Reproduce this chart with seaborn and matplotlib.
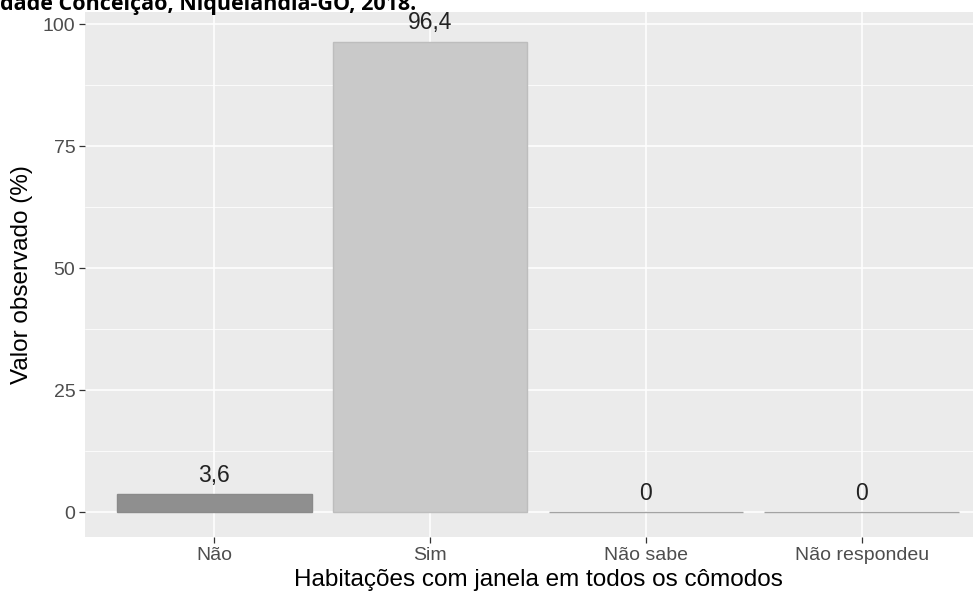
import matplotlib
matplotlib.use("Agg")
import matplotlib.pyplot as plt
import seaborn as sns
import numpy as np

# dados
categorias = ["Não", "Sim", "Não sabe", "Não respondeu"]
valores = [3.6, 96.4, 0, 0]
rotulos = ["3,6", "96,4", "0", "0"]
cores = ["#8f8f8f", "#c9c9c9", "#a6a6a6", "#a6a6a6"]
bordas = ["#8a8a8a", "#bdbdbd", "#a3a3a3", "#a3a3a3"]
y_ticks = [0, 25, 50, 75, 100]
titulo = "dade Conceição, Niquelândia-GO, 2018."

sns.set_style("white")
plt.rcParams["font.family"] = ["Liberation Sans", "DejaVu Sans"]

W, H = 973, 598
fig = plt.figure(figsize=(W / 100, H / 100), dpi=100)
# painel (estende além da borda direita, como na imagem cortada)
left, right, top, bottom = 85, 991, 12, 537
ax = fig.add_axes([left / W, (H - bottom) / H, (right - left) / W, (bottom - top) / H])
ax.set_facecolor("#ebebeb")

sns.barplot(x=categorias, y=valores, hue=categorias, palette=cores, legend=False,
            width=0.9, ax=ax, linewidth=1.0, zorder=3)
for p, c in zip(ax.patches, bordas):
    p.set_edgecolor(c)

ax.set_xlim(-0.6, 3.6)
ax.set_ylim(-5.12, 102.46)

# grade
ax.set_yticks(y_ticks)
ax.set_yticks([12.5, 37.5, 62.5, 87.5], minor=True)
ax.grid(True, which="major", color="white", linewidth=1.1, zorder=0)
ax.grid(True, which="minor", axis="y", color="white", linewidth=0.55, zorder=0)
ax.set_axisbelow(True)
for s in ax.spines.values():
    s.set_visible(False)

ax.tick_params(axis="both", which="major", length=4, width=0.9, color="#333333",
               labelsize=14, labelcolor="#4d4d4d", pad=3, left=True, bottom=True)
ax.tick_params(axis="both", which="minor", length=0)

for i, (v, r) in enumerate(zip(valores, rotulos)):
    ax.text(i, v + 1.5, r, ha="center", va="bottom", fontsize=16.5, color="#222222", zorder=4)

ax.set_xlabel("Habitações com janela em todos os cômodos", fontsize=17.5, color="black", labelpad=4)
ax.set_ylabel("Valor observado (%)", fontsize=17.5, color="black", labelpad=7)

# título cortado no topo, como na imagem original
fig.text(0, 1 - 10 / H, titulo, ha="left", va="baseline", fontsize=15.5,
         fontweight="bold", family=["Open Sans", "DejaVu Sans"], color="black")

fig.savefig("out.png", dpi=100)
